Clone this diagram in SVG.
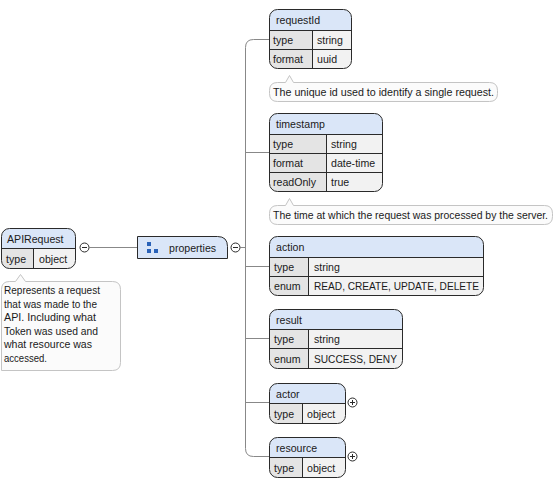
<svg xmlns="http://www.w3.org/2000/svg" width="559" height="482" viewBox="0 0 559 482">
<style>
text{font-family:"Liberation Sans",Arial,sans-serif;font-size:10.6px;fill:#1a1a1a}
.hdr{fill:#dae6f8}
.lab{fill:#e4e4e4}
.val{fill:#f2f2f2}
.out{fill:none;stroke:#2a2a2a;stroke-width:1}
.div{stroke:#2a2a2a;stroke-width:1;fill:none}
.con{stroke:#888;stroke-width:1;fill:none}
.cmt{fill:#fbfbfb;stroke:#c4c4c4;stroke-width:1}
.tog{fill:#fff;stroke:#2a2a2a;stroke-width:1}
.sign{stroke:#2a2a2a;stroke-width:1}
.ico{fill:#2a62b8}
</style>
<defs>
<clipPath id="cpApi"><rect x="1.5" y="228.5" width="74" height="40" rx="8"/></clipPath>
<clipPath id="cpReq"><rect x="269.5" y="9.5" width="82" height="59" rx="8"/></clipPath>
<clipPath id="cpTs"><rect x="269.5" y="113.5" width="113" height="78" rx="8"/></clipPath>
<clipPath id="cpAct"><rect x="269.5" y="236.5" width="214" height="59" rx="8"/></clipPath>
<clipPath id="cpRes"><rect x="269.5" y="309.5" width="133" height="59" rx="8"/></clipPath>
<clipPath id="cpActor"><rect x="269.5" y="383.5" width="76" height="40" rx="8"/></clipPath>
<clipPath id="cpRsc"><rect x="269.5" y="437.5" width="76" height="40" rx="8"/></clipPath>
</defs>

<g id="connectors">
<path class="con" d="M89.5 247.5 H137.5"/>
<path class="con" d="M240.5 247.5 H245.5"/>
<path class="con" d="M269.5 39.5 H253.5 Q245.5 39.5 245.5 47.5 V448.5 Q245.5 456.5 253.5 456.5 H269.5"/>
<path class="con" d="M245.5 152.5 H269.5"/>
<path class="con" d="M245.5 266.5 H269.5"/>
<path class="con" d="M245.5 338.5 H269.5"/>
<path class="con" d="M245.5 402.5 H269.5"/>
</g>

<g id="APIRequest">
<g clip-path="url(#cpApi)">
<rect class="hdr" x="1.5" y="228.5" width="74" height="20"/>
<rect class="lab" x="1.5" y="248.5" width="32" height="20"/>
<rect class="val" x="33.5" y="248.5" width="42" height="20"/>
</g>
<path class="div" d="M1.5 248.5 H75.5 M33.5 248.5 V268.5"/>
<rect class="out" x="1.5" y="228.5" width="74" height="40" rx="8"/>
<text x="7" y="243">APIRequest</text>
<text x="6" y="262.5">type</text>
<text x="39" y="262.5">object</text>
<circle class="tog" cx="84.5" cy="247.5" r="4.5"/>
<path class="sign" d="M82 247.5 H87"/>
</g>

<g id="APIRequest-comment">
<path class="cmt" d="M9.5 281.5 H15.5 L20.5 274.5 L25.5 281.5 H112.5 Q120.5 281.5 120.5 289.5 V362.5 Q120.5 370.5 112.5 370.5 H1.5 V289.5 Q1.5 281.5 9.5 281.5 Z"/>
<text x="4" y="294" textLength="96" lengthAdjust="spacingAndGlyphs">Represents a request</text>
<text x="4" y="307.5" textLength="93" lengthAdjust="spacingAndGlyphs">that was made to the</text>
<text x="4" y="321" textLength="92" lengthAdjust="spacingAndGlyphs">API. Including what</text>
<text x="4" y="334.5" textLength="94" lengthAdjust="spacingAndGlyphs">Token was used and</text>
<text x="4" y="348" textLength="88" lengthAdjust="spacingAndGlyphs">what resource was</text>
<text x="4" y="361.5" textLength="43" lengthAdjust="spacingAndGlyphs">accessed.</text>
</g>

<g id="properties">
<path d="M137.5 236.5 H217.5 Q227.5 236.5 227.5 246.5 V258.5 H137.5 Z" fill="#dae6f8" stroke="#2a2a2a"/>
<rect class="ico" x="147" y="242" width="4" height="4"/>
<rect class="ico" x="147" y="249" width="4" height="4"/>
<rect class="ico" x="154" y="249" width="4" height="4"/>
<text x="169" y="251.5">properties</text>
<circle class="tog" cx="235.5" cy="247.5" r="4.5"/>
<path class="sign" d="M233 247.5 H238"/>
</g>

<g id="requestId">
<g clip-path="url(#cpReq)">
<rect class="hdr" x="269.5" y="9.5" width="82" height="21"/>
<rect class="lab" x="269.5" y="30.5" width="43" height="38"/>
<rect class="val" x="312.5" y="30.5" width="39" height="38"/>
</g>
<path class="div" d="M269.5 30.5 H351.5 M269.5 49.5 H351.5 M312.5 30.5 V68.5"/>
<rect class="out" x="269.5" y="9.5" width="82" height="59" rx="8"/>
<text x="276" y="24">requestId</text>
<text x="273" y="44">type</text>
<text x="317" y="44">string</text>
<text x="273" y="63">format</text>
<text x="317" y="63">uuid</text>
</g>
<g id="requestId-comment">
<path class="cmt" d="M277.5 82.5 H285.5 L289.5 75.5 L293.5 82.5 H489.5 Q497.5 82.5 497.5 90.5 V93.5 Q497.5 101.5 489.5 101.5 H277.5 Q269.5 101.5 269.5 93.5 V90.5 Q269.5 82.5 277.5 82.5 Z"/>
<text x="273" y="96" textLength="221" lengthAdjust="spacingAndGlyphs">The unique id used to identify a single request.</text>
</g>

<g id="timestamp">
<g clip-path="url(#cpTs)">
<rect class="hdr" x="269.5" y="113.5" width="113" height="21"/>
<rect class="lab" x="269.5" y="134.5" width="57" height="57"/>
<rect class="val" x="326.5" y="134.5" width="56" height="57"/>
</g>
<path class="div" d="M269.5 134.5 H382.5 M269.5 153.5 H382.5 M269.5 172.5 H382.5 M326.5 134.5 V191.5"/>
<rect class="out" x="269.5" y="113.5" width="113" height="78" rx="8"/>
<text x="276" y="128">timestamp</text>
<text x="273" y="148">type</text>
<text x="331" y="148">string</text>
<text x="273" y="167">format</text>
<text x="331" y="167">date-time</text>
<text x="273" y="186">readOnly</text>
<text x="331" y="186">true</text>
</g>
<g id="timestamp-comment">
<path class="cmt" d="M277.5 205.5 H285.5 L289.5 198.5 L293.5 205.5 H544.5 Q552.5 205.5 552.5 213.5 V216.5 Q552.5 224.5 544.5 224.5 H277.5 Q269.5 224.5 269.5 216.5 V213.5 Q269.5 205.5 277.5 205.5 Z"/>
<text x="273" y="219" textLength="275" lengthAdjust="spacingAndGlyphs">The time at which the request was processed by the server.</text>
</g>

<g id="action">
<g clip-path="url(#cpAct)">
<rect class="hdr" x="269.5" y="236.5" width="214" height="21"/>
<rect class="lab" x="269.5" y="257.5" width="39" height="38"/>
<rect class="val" x="308.5" y="257.5" width="175" height="38"/>
</g>
<path class="div" d="M269.5 257.5 H483.5 M269.5 276.5 H483.5 M308.5 257.5 V295.5"/>
<rect class="out" x="269.5" y="236.5" width="214" height="59" rx="8"/>
<text x="276" y="251">action</text>
<text x="274" y="271">type</text>
<text x="314" y="271">string</text>
<text x="274" y="290">enum</text>
<text x="314" y="290" textLength="165" lengthAdjust="spacingAndGlyphs">READ, CREATE, UPDATE, DELETE</text>
</g>

<g id="result">
<g clip-path="url(#cpRes)">
<rect class="hdr" x="269.5" y="309.5" width="133" height="20"/>
<rect class="lab" x="269.5" y="329.5" width="39" height="39"/>
<rect class="val" x="308.5" y="329.5" width="94" height="39"/>
</g>
<path class="div" d="M269.5 329.5 H402.5 M269.5 348.5 H402.5 M308.5 329.5 V368.5"/>
<rect class="out" x="269.5" y="309.5" width="133" height="59" rx="8"/>
<text x="276" y="323.5">result</text>
<text x="274" y="343">type</text>
<text x="314" y="343">string</text>
<text x="274" y="362.5">enum</text>
<text x="314" y="362.5" textLength="83" lengthAdjust="spacingAndGlyphs">SUCCESS, DENY</text>
</g>

<g id="actor">
<g clip-path="url(#cpActor)">
<rect class="hdr" x="269.5" y="383.5" width="76" height="20"/>
<rect class="lab" x="269.5" y="403.5" width="33" height="20"/>
<rect class="val" x="302.5" y="403.5" width="43" height="20"/>
</g>
<path class="div" d="M269.5 403.5 H345.5 M302.5 403.5 V423.5"/>
<rect class="out" x="269.5" y="383.5" width="76" height="40" rx="8"/>
<text x="276" y="397.5">actor</text>
<text x="274" y="417.5">type</text>
<text x="307" y="417.5">object</text>
<circle class="tog" cx="352.5" cy="402.5" r="4.5"/>
<path class="sign" d="M350 402.5 H355 M352.5 400 V405"/>
</g>

<g id="resource">
<g clip-path="url(#cpRsc)">
<rect class="hdr" x="269.5" y="437.5" width="76" height="20"/>
<rect class="lab" x="269.5" y="457.5" width="33" height="20"/>
<rect class="val" x="302.5" y="457.5" width="43" height="20"/>
</g>
<path class="div" d="M269.5 457.5 H345.5 M302.5 457.5 V477.5"/>
<rect class="out" x="269.5" y="437.5" width="76" height="40" rx="8"/>
<text x="276" y="451.5">resource</text>
<text x="274" y="471.5">type</text>
<text x="307" y="471.5">object</text>
<circle class="tog" cx="352.5" cy="456.5" r="4.5"/>
<path class="sign" d="M350 456.5 H355 M352.5 454 V459"/>
</g>
</svg>
